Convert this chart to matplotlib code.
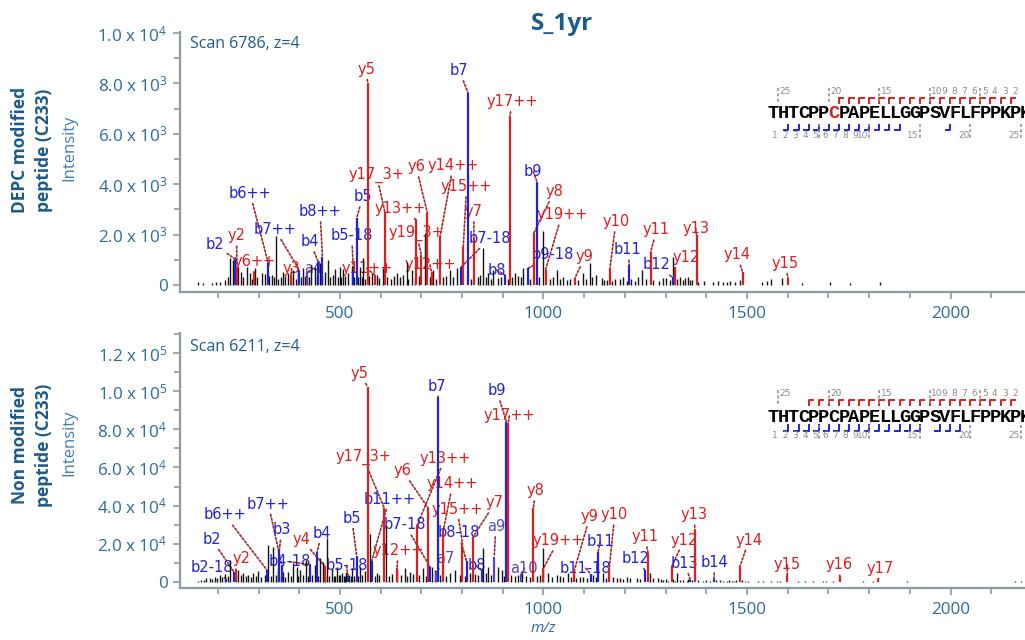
import matplotlib
matplotlib.use("Agg")
import matplotlib.pyplot as plt
from matplotlib.ticker import MultipleLocator, FixedLocator

plt.rcParams['font.family'] = ['Open Sans', 'DejaVu Sans']
plt.rcParams['mathtext.fontset'] = 'custom'
plt.rcParams['mathtext.rm'] = 'Open Sans'
plt.rcParams['mathtext.it'] = 'Open Sans:italic'
plt.rcParams['mathtext.bf'] = 'Open Sans:bold'
plt.rcParams['mathtext.default'] = 'regular'

# ---------------- data ----------------
title = "S_1yr"
sequence = "THTCPPCPAPELLGGPSVFLFPPKPK"

top_name = "DEPC modified"
bot_name = "Non modified"
top_scan = "Scan 6786, z=4"
bot_scan = "Scan 6211, z=4"

xticks = [500, 1000, 1500, 2000]
top_yticks = [0, 2000, 4000, 6000, 8000, 10000]
top_yticklabels = ['0', r'2.0 x $10^{3}$', r'4.0 x $10^{3}$', r'6.0 x $10^{3}$',
                   r'8.0 x $10^{3}$', r'1.0 x $10^{4}$']
bot_yticks = [0, 20000, 40000, 60000, 80000, 100000, 120000]
bot_yticklabels = ['0', r'2.0 x $10^{4}$', r'4.0 x $10^{4}$', r'6.0 x $10^{4}$',
                   r'8.0 x $10^{4}$', r'1.0 x $10^{5}$', r'1.2 x $10^{5}$']

# unassigned (black) peaks, top spectrum
top_black_mz = [150, 163, 185, 195, 205, 217, 225, 230, 238, 244, 250, 258, 263, 271, 279, 284,
                291, 297, 308, 316, 326, 332, 337, 343, 348, 355, 361, 366, 373, 379, 385, 392,
                398, 404, 410, 413, 418, 425, 430, 439, 444, 451, 457, 463, 471, 476, 482, 488,
                494, 500, 503, 508, 513, 520, 529, 534, 545, 549, 553, 557, 562, 571, 578, 590,
                597, 606, 615, 625, 632, 639, 648, 655, 664, 668, 676, 684, 694, 710, 720, 729,
                737, 752, 760, 770, 778, 787, 822, 838, 845, 852, 858, 864, 870, 877, 889, 896,
                912, 922, 930, 938, 944, 950, 968, 990, 999, 1015, 1024, 1032, 1040, 1049, 1058,
                1066, 1085, 1098, 1104, 1114, 1120, 1130, 1143, 1148, 1155, 1168, 1176, 1188,
                1196, 1205, 1215, 1226, 1233, 1241, 1252, 1270, 1283, 1294, 1302, 1310, 1319,
                1327, 1335, 1342, 1348, 1356, 1360, 1366, 1380, 1395, 1417, 1429, 1440, 1450,
                1458, 1470, 1482, 1536, 1548, 1560, 1585, 1634, 1704, 1753, 1826]
top_black_int = [120, 90, 80, 110, 132, 199, 300, 1059, 993, 350, 728, 529, 300, 728, 463, 250,
                 662, 300, 463, 437, 350, 397, 300, 1945, 250, 300, 529, 350, 463, 300, 596, 250,
                 529, 300, 662, 350, 397, 300, 794, 728, 300, 860, 350, 529, 993, 300, 400, 622,
                 300, 728, 300, 622, 350, 463, 754, 300, 300, 702, 300, 1059, 250, 350, 463, 397,
                 280, 662, 300, 250, 350, 463, 300, 400, 926, 250, 595, 300, 350, 2076, 300, 595,
                 250, 300, 350, 595, 300, 662, 250, 300, 400, 1456, 300, 463, 250, 595, 265, 300,
                 250, 300, 463, 350, 300, 662, 250, 300, 2157, 250, 300, 595, 250, 331, 200,
                 250, 200, 463, 250, 860, 300, 397, 265, 200, 198, 150, 225, 225,
                 331, 150, 250, 150, 331, 595, 250, 198, 150, 265, 265, 200, 1124,
                 250, 331, 200, 265, 331, 198, 200, 132, 150, 132, 172, 120, 100,
                 172, 132, 198, 132, 172, 225, 265, 93, 132, 93, 132]

# assigned fragment ions, top spectrum
top_ion_label = ['b2', 'y2', 'y6++', 'b6++', 'b7++', 'y3', 'a4', 'b4', 'b8++', 'b5-18',
                 'y11++', 'b5', 'y5', 'y17_3+', 'y13++', 'y6', 'y14++', 'y19_3+', 'y12++',
                 'y15++', 'y7', 'b7', 'b7-18', 'b8', 'y17++', 'b9', 'y8', 'y19++', 'b9-18',
                 'y9', 'y10', 'b11', 'y11', 'b12', 'y12', 'y13', 'y14', 'y15']
top_ion_mz = [242, 247, 288, 324, 400, 380, 419, 447, 457, 533,
              585, 541, 568, 610, 688, 715, 746, 700, 725,
              803, 829, 815, 797, 905, 917, 984, 976, 1005, 962,
              1077, 1163, 1211, 1263, 1317, 1322, 1376, 1489, 1601]
top_ion_int = [1030, 700, 500, 860, 600, 400, 500, 900, 1125, 500,
               400, 2650, 8008, 2910, 2580, 2846, 1918, 1200, 500,
               1520, 1918, 7610, 700, 400, 6680, 4100, 2052, 600, 660,
               265, 622, 794, 1297, 300, 660, 1985, 530, 265]

# unassigned (black) peaks, bottom spectrum
bot_black_mz = [150, 158, 165, 172, 181, 186, 193, 198, 205, 211, 217, 224, 230, 245, 250, 256,
                262, 268, 275, 281, 287, 294, 299, 307, 316, 324, 330, 336, 343, 348, 354, 361,
                366, 373, 379, 385, 394, 397, 402, 408, 416, 421, 432, 439, 446, 451, 459, 464,
                469, 474, 480, 485, 488, 492, 497, 500, 504, 509, 513, 516, 522, 526, 529, 535,
                545, 549, 554, 561, 574, 585, 590, 597, 612, 620, 628, 639, 650, 660, 665, 672,
                680, 695, 705, 712, 725, 733, 745, 760, 770, 782, 795, 806, 819, 832, 840, 852,
                858, 864, 872, 889, 897, 903, 920, 930, 938, 946, 958, 967, 985, 992, 999, 1012,
                1020, 1032, 1040, 1049, 1061, 1068, 1080, 1090, 1098, 1108, 1122, 1128, 1147,
                1153, 1171, 1180, 1188, 1195, 1204, 1213, 1229, 1237, 1261, 1270, 1282, 1288,
                1294, 1300, 1307, 1317, 1323, 1327, 1335, 1342, 1352, 1356, 1366, 1380, 1392,
                1400, 1409, 1425, 1433, 1440, 1450, 1456, 1462, 1468, 1474, 1488, 1495, 1502,
                1528, 1540, 1560, 1573, 1582, 1626, 1642, 1663, 1687, 1695, 1712, 1786, 1810,
                1892, 2158, 2174]
bot_black_int = [600, 800, 900, 1786, 1786, 1500, 2660, 2000, 3540, 2500, 4060, 3000, 11400, 3000,
                 6150, 3500, 4400, 3000, 3540, 2500, 4400, 3000, 5800, 2500, 3540, 19280, 3000,
                 18400, 3500, 7000, 3000, 5250, 2500, 5250, 3000, 9630, 7530, 3000, 6150, 3500,
                 11400, 3000, 3500, 8760, 3000, 12260, 10500, 3500, 22780, 3000, 6480, 3000, 3000,
                 7880, 3500, 3500, 4400, 3000, 2800, 5250, 3500, 3000, 7000, 3000, 3000, 7530,
                 3500, 5800, 25000, 3000, 4400, 3500, 30000, 3000, 4000, 6150, 3500, 7000, 3000,
                 5250, 4000, 3500, 7000, 3000, 7880, 6150, 3500, 3000, 4400, 6150, 3500, 3000,
                 4400, 4000, 3500, 17550, 4500, 7880, 3500, 7880, 6150, 3000, 3500, 3000, 3500,
                 4400, 3000, 2640, 3000, 3500, 17550, 4400, 2500, 3500, 3000, 2640, 4400, 2500,
                 2000, 2640, 2500, 2000, 3500, 2500, 4400, 2000, 2640, 2000, 1760, 1500, 2640,
                 2000, 1760, 1500, 4400, 2000, 1760, 1500, 900, 1200, 525, 1500, 525, 4400, 900,
                 1000, 525, 1200, 900, 1000, 525, 700, 525, 800, 900, 600, 525, 700, 525, 600,
                 900, 700, 525, 500, 300, 300, 400, 525, 525, 300, 300, 300, 300, 300, 300, 300,
                 300, 525, 300, 300]

# assigned fragment ions, bottom spectrum
bot_ion_label = ['b2-18', 'b2', 'y2', 'b6++', 'b7++', 'b3', 'y4', 'b4', 'b4-18', 'b5-18',
                 'b5', 'y5', 'y17_3+', 'b11++', 'y6', 'y13++', 'y14++', 'b7-18', 'y12++',
                 'b7', 'a7', 'y15++', 'b8-18', 'y7', 'a9', 'b8', 'b9', 'y17++', 'a10', 'y8',
                 'y19++', 'y9', 'b11-18', 'b11', 'y10', 'b12', 'y11', 'y12', 'b13', 'y13',
                 'b14', 'y14', 'y15', 'y16', 'y17']
bot_ion_mz = [220, 240, 244, 321, 357, 351, 463, 444, 427, 520,
              541, 568, 609, 578, 717, 690, 754, 721, 640,
              741.5, 737, 801, 811, 827.5, 879, 848, 909, 913.5, 945, 975,
              1000, 1076, 1116, 1134.5, 1161.6, 1249, 1257, 1315, 1361, 1372,
              1418.6, 1482.5, 1599, 1728, 1823]
bot_ion_int = [1500, 5000, 6150, 6000, 8770, 16650, 8000, 15760, 9000, 3000,
               13500, 102450, 38560, 11000, 38560, 29800, 27160, 7880, 7000,
               97200, 5000, 20170, 10700, 23650, 13140, 6150, 84060, 83200, 4000, 38560,
               7000, 6150, 4000, 15760, 7000, 6150, 14900, 7880, 900, 27160,
               1230, 7880, 3500, 3000, 1230]

# fragment coverage shown on the sequence maps
top_y_seen = list(range(2, 20))
top_b_seen = list(range(2, 14)) + [18]
top_mod_site = 6
bot_y_seen = list(range(2, 23))
bot_b_seen = list(range(2, 16)) + [17, 18, 19]
bot_mod_site = None
y_numbers = [25, 20, 15, 10, 9, 8, 7, 6, 5, 4, 3, 2]
b_numbers = [1, 2, 3, 4, 5, 6, 7, 8, 9, 10, 15, 20, 25]

# ---------------- layout (label centres, data coords) ----------------
top_label_xy = [(193, 1590), (246, 1945), (291, 930), (279, 3640), (340, 2210), (381, 660),
                (434, 660), (426, 1720), (451, 2910), (529, 1945), (566, 660), (556, 3505),
                (565, 8560), (590, 4370), (647, 3045), (687, 4700), (778, 4724), (688, 2052),
                (721, 794), (811, 3902), (829, 2910), (793, 8508), (868, 1855), (885, 595),
                (924, 7277), (975, 4500), (1026, 3704), (1045, 2779), (1022, 1191), (1102, 1126),
                (1178, 2513), (1207, 1390), (1278, 2184), (1278, 794), (1350, 1100),
                (1374, 2250), (1475, 1191), (1593, 860)]
bot_label_xy = [(185, 7560), (185, 22280), (259, 11930), (217, 35040), (324, 40800),
                (357, 27160), (406, 22280), (455, 25430), (376, 10500), (516, 8250),
                (529, 33300), (547, 109500), (557, 65350), (621, 43300), (654, 58300),
                (758, 64830), (777, 51330), (660, 29800), (643, 16290), (739, 102800),
                (760, 12300), (788, 38040), (791, 25750), (881, 41500), (883, 28900),
                (836, 8250), (885, 100350), (916, 87060), (953, 7040), (981, 47810),
                (1036, 21540), (1114, 34150), (1104, 7040), (1139, 21020), (1175, 35040),
                (1225, 12300), (1249, 23650), (1345, 21900), (1347, 9650), (1370, 35040),
                (1421, 10000), (1505, 21900), (1599, 8770), (1726, 8770), (1828, 7040)]

RED = '#dc1f1f'
BLUE = '#2323d6'
PURPLE = '#5548c0'
BLACK = '#141414'
CONN = '#a02a2a'
SPINE = '#8d9aa6'
TICKC = '#2c6b9c'
DARKB = '#1d5b8c'
GRAY = '#8c8c8c'

W, H = 1025, 640


def ion_color(lab):
    if lab.startswith('y'):
        return RED
    if lab.startswith('a'):
        return PURPLE
    return BLUE


def draw_spectrum(ax, black_mz, black_int, labels, mz, inten, label_xy):
    ax.vlines(black_mz, 0, black_int, color=BLACK, lw=1.0, zorder=3)
    cols = [ion_color(l) for l in labels]
    ax.vlines(mz, 0, inten, colors=cols, lw=1.6, zorder=4)
    for lab, x, y, (lx, ly), c in zip(labels, mz, inten, label_xy, cols):
        ax.annotate(lab, xy=(x, y), xytext=(lx, ly), ha='center', va='center',
                    color=c, fontsize=10.5, family='DejaVu Sans', zorder=2,
                    annotation_clip=False,
                    arrowprops=dict(arrowstyle='-', color=CONN, lw=1.2,
                                    linestyle=(0, (1.2, 1.2)), shrinkA=0, shrinkB=0))


def style_axes(ax, ylim, yticks, yticklabels, yminor):
    ax.set_xlim(107, 2183)
    ax.set_ylim(*ylim)
    for s in ('top', 'right'):
        ax.spines[s].set_visible(False)
    for s in ('left', 'bottom'):
        ax.spines[s].set_color(SPINE)
        ax.spines[s].set_linewidth(1.6)
    ax.xaxis.set_major_locator(FixedLocator(xticks))
    ax.xaxis.set_minor_locator(MultipleLocator(100))
    ax.set_xticklabels([str(t) for t in xticks])
    ax.yaxis.set_major_locator(FixedLocator(yticks))
    ax.yaxis.set_minor_locator(MultipleLocator(yminor))
    ax.set_yticklabels(yticklabels)
    ax.tick_params(which='both', direction='out', color=SPINE, width=1.2,
                   labelcolor=TICKC, labelsize=12.3)
    ax.tick_params(which='major', length=5)
    ax.tick_params(which='minor', length=4)
    ax.tick_params(axis='x', pad=5)
    ax.tick_params(axis='y', pad=4)
    ax.set_facecolor('none')


def draw_sequence(ov, base, mark_top, mark_bot, y_seen, b_seen, mod_site):
    x0, step = 768.2, 10.1
    n = len(sequence)
    for i, ch in enumerate(sequence):
        ov.text(x0 + step * (i + 0.5), base, ch, ha='center', va='baseline',
                family='Liberation Mono', fontweight='bold', fontsize=13.5,
                color=RED if i == mod_site else 'black')
    # y ions (above)
    for k in y_seen:
        bx = x0 + step * (n - k)
        ov.plot([bx, bx, bx + 4.5], [mark_top + 5.5, mark_top, mark_top], color=RED, lw=1.4)
    for k in y_numbers:
        bx = x0 + step * (n - k)
        ov.text(bx + 1.5, mark_top - 6.5, str(k), ha='left', va='center',
                fontsize=6.5, color=GRAY, family='DejaVu Sans')
        if k % 5 == 0:
            ov.plot([bx, bx], [mark_top - 10, mark_top + 5], color=GRAY, lw=1.1,
                    ls=(0, (2, 1.5)))
    # b ions (below)
    for i in b_seen:
        bx = x0 + step * i
        ov.plot([bx - 4.5, bx, bx], [mark_bot, mark_bot, mark_bot - 5.5], color=BLUE, lw=1.4)
    for i in b_numbers:
        bx = x0 + step * i
        ov.text(bx - 0.8, mark_bot + 5, str(i), ha='right', va='center',
                fontsize=6.5, color=GRAY, family='DejaVu Sans')
        if i % 5 == 0:
            ov.plot([bx, bx], [mark_bot - 6, mark_bot + 8], color=GRAY, lw=1.1,
                    ls=(0, (2, 1.5)))


fig = plt.figure(figsize=(W / 100, H / 100), dpi=100)
ax1 = fig.add_axes([180 / W, 1 - 292 / H, 1 - 180 / W, (292 - 32) / H])
ax2 = fig.add_axes([180 / W, 1 - 588.3 / H, 1 - 180 / W, (588.3 - 332.7) / H])

draw_spectrum(ax1, top_black_mz, top_black_int, top_ion_label, top_ion_mz, top_ion_int, top_label_xy)
draw_spectrum(ax2, bot_black_mz, bot_black_int, bot_ion_label, bot_ion_mz, bot_ion_int, bot_label_xy)
style_axes(ax1, (-278, 10040), top_yticks, top_yticklabels, 1000)
style_axes(ax2, (-3470, 130800), bot_yticks, bot_yticklabels, 10000)

# overlay in pixel coordinates for titles, labels and sequence maps
ov = fig.add_axes([0, 0, 1, 1], zorder=5)
ov.set_xlim(0, W)
ov.set_ylim(H, 0)
ov.axis('off')
ov.patch.set_alpha(0)

ov.text(562, 24, title, ha='center', va='center', fontsize=17.5, fontweight='bold', color=DARKB)
for cy, name in ((150, top_name), (445, bot_name)):
    ov.text(20, cy, name, rotation=90, ha='center', va='center', fontsize=12.5,
            fontweight='bold', color=DARKB)
    ov.text(44, cy, 'peptide (C233)', rotation=90, ha='center', va='center', fontsize=12.5,
            fontweight='bold', color=DARKB)
    ov.text(69, cy - 2, 'Intensity', rotation=90, ha='center', va='center', fontsize=12,
            color='#3f7fb0')
ov.text(190, 43.5, top_scan, ha='left', va='center', fontsize=11.5, color=DARKB)
ov.text(190, 347, bot_scan, ha='left', va='center', fontsize=11.5, color=DARKB)
ov.text(543, 628, 'm/z', ha='center', va='center', fontsize=11, style='italic', color=TICKC)

draw_sequence(ov, 118.5, 97.5, 130, top_y_seen, top_b_seen, top_mod_site)
draw_sequence(ov, 422, 399.5, 430.5, bot_y_seen, bot_b_seen, bot_mod_site)

fig.savefig('out.png', dpi=100)
